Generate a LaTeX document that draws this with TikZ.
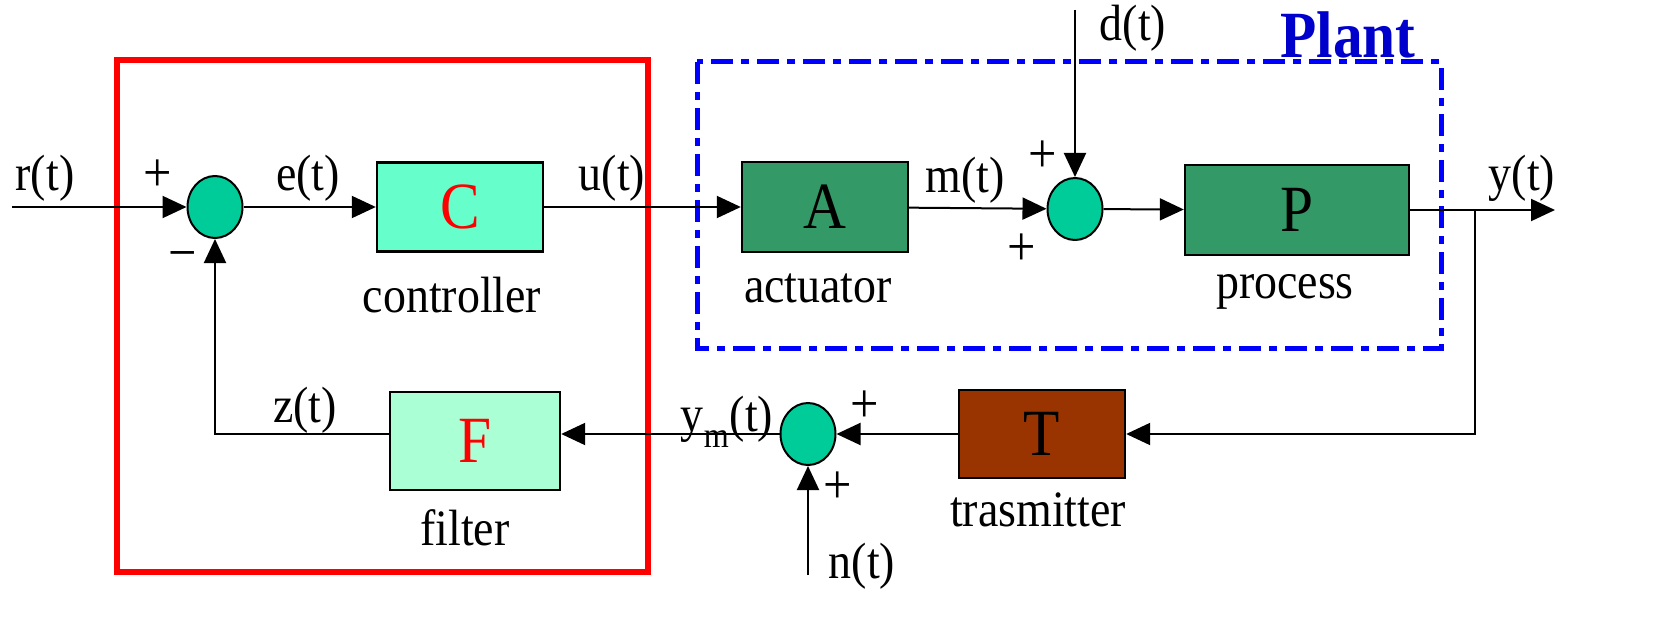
\documentclass[tikz,border=0pt]{standalone}
\usepackage{fontspec}
\setmainfont[FakeStretch=0.9]{Liberation Serif}
\usetikzlibrary{positioning,shapes.geometric,arrows.meta}
\definecolor{sumgreen}{HTML}{00CC99}
\definecolor{ctrlgreen}{HTML}{66FFCC}
\definecolor{plantgreen}{HTML}{339966}
\definecolor{filtgreen}{HTML}{AAFFD4}
\definecolor{transbrown}{HTML}{993300}
\definecolor{plantblue}{HTML}{0000CC}
\begin{document}
\begin{tikzpicture}
[x=0.5pt, y=-0.5pt, font=\fontsize{25.5}{28}\selectfont,
 block/.style={draw=black, line width=1.2pt, inner sep=0pt, font=\fontsize{33}{33}\selectfont},
 sum/.style={draw=black, line width=1pt, shape=ellipse, fill=sumgreen, minimum width=27.5pt, minimum height=31pt, inner sep=0pt},
 sig/.style={line width=1pt, -{Triangle[length=12pt,width=11pt]}},
 sign/.style={font=\fontsize{28}{28}\selectfont}]
\useasboundingbox (0,0) rectangle (1671,626);
% frames
\draw[red, line width=3pt] (117,60) rectangle (648,572);
\draw[blue, line width=2.5pt, dash pattern=on 11pt off 4pt on 4pt off 4pt] (697,62) rectangle (1441,348);
\node[text=plantblue, font=\fontsize{33}{33}\selectfont\bfseries] (plant) at (1348,35) {Plant};
% blocks
\node[sum] (s1) at (215,207) {};
\node[block, fill=ctrlgreen, minimum width=83pt, minimum height=44.5pt, text=red] (C) at (460,207) {C};
\node[block, fill=plantgreen, minimum width=83pt, minimum height=45pt] (A) at (825,207) {A};
\node[sum] (s2) at (1075,209) {};
\node[block, fill=plantgreen, minimum width=112pt, minimum height=45pt] (P) at (1297,210) {P};
\node[block, fill=transbrown, minimum width=83pt, minimum height=44pt] (T) at (1042,434) {T};
\node[sum] (s3) at (808,434) {};
\node[block, fill=filtgreen, minimum width=85pt, minimum height=49pt, text=red] (F) at (475,441) {F};
% free ends
\coordinate (rin) at (12,207);
\coordinate (din) at (1075,10);
\coordinate (nin) at (808,575);
\coordinate (yout) at (1555,210);
\coordinate (br) at (1475,210);
% signals
\draw[sig] (rin) -- (s1);
\draw[sig] (s1) -- (C);
\draw[sig] (C) -- (A);
\draw[sig] (A) -- (s2);
\draw[sig] (din) -- (s2);
\draw[sig] (s2) -- (P);
\draw[sig] (P) -- (yout);
\draw[sig] (br) |- (T);
\draw[sig] (T) -- (s3);
\draw[sig] (nin) -- (s3);
\draw[sig] (s3) -- (s3 -| F.east);
\draw[sig] (s3 -| F.west) -| (s1);
% labels
\node (r) at (45,178) {r(t)};
\node (e) at (308,178) {e(t)};
\node (u) at (612,178) {u(t)};
\node (m) at (965,180) {m(t)};
\node (d) at (1133,28) {d(t)};
\node (y) at (1522,178) {y(t)};
\node (ym) at (727,422) {y\raisebox{-0.35ex}{\textsubscript{m}}(t)};
\node (z) at (305,410) {z(t)};
\node (n) at (862,566) {n(t)};
\node (ctrl) at (452,295) {controller};
\node (act) at (818,288) {actuator};
\node (proc) at (1285,292) {process};
\node (trans) at (1038,510) {trasmitter};
\node (filt) at (465,528) {filter};
% signs
\node[sign] at (158,176) {+};
\node[sign] at (183,262) {−};
\node[sign] at (1043,157) {+};
\node[sign] at (1022,250) {+};
\node[sign] at (865,407) {+};
\node[sign] at (838,488) {+};
\end{tikzpicture}
\end{document}
